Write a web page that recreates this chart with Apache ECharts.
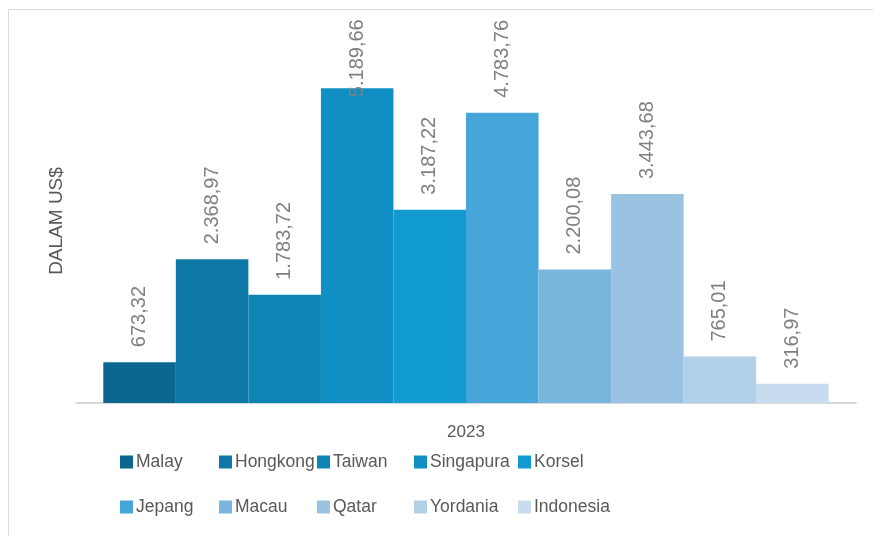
<!DOCTYPE html>
<html>
<head>
<meta charset="utf-8">
<script src="https://cdn.jsdelivr.net/npm/echarts@6/dist/echarts.min.js"></script>
<style>
    html, body { margin: 0; padding: 0; background: #fff; }
    #main { width: 873px; height: 536px; }
</style>
</head>
<body>
<div id="main"></div>
<script>
// ekspor 2023, dalam US$
var years = ['2023'];
var countries = ['Malay', 'Hongkong', 'Taiwan', 'Singapura', 'Korsel', 'Jepang', 'Macau', 'Qatar', 'Yordania', 'Indonesia'];
var values = [673.32, 2368.97, 1783.72, 5189.66, 3187.22, 4783.76, 2200.08, 3443.68, 765.01, 316.97];
var colors = ['#0a6890', '#0d77a5', '#0e84b5', '#108fc4', '#119bd0', '#46a6d9', '#7ab5de', '#9ac3e3', '#b3d0e9', '#c7dcef'];

function fmt(v) {
    var parts = v.toFixed(2).split('.');
    return parts[0].replace(/\B(?=(\d{3})+(?!\d))/g, '.') + ',' + parts[1];
}

var chart = echarts.init(document.getElementById('main'));

var seriesObj = [];
for (var i = 0; i < countries.length; i++) {
    seriesObj.push({
        name: countries[i],
        type: 'bar',
        barGap: '0%',
        barCategoryGap: '7%',
        itemStyle: {
            color: colors[i]
        },
        label: {
            show: true,
            position: 'top',
            rotate: 90,
            align: 'left',
            verticalAlign: 'middle',
            // label Singapura masuk ke batang, seperti di Excel
            distance: countries[i] === 'Singapura' ? -9 : 15,
            color: '#808080',
            fontFamily: 'Liberation Sans',
            fontSize: 20,
            formatter: function (p) {
                return fmt(p.value);
            }
        },
        data: [values[i]]
    });
}

// legenda 2 baris x 5 kolom, posisi kolom seperti Excel
var legendCols = [120, 219, 317, 414, 518];
var legendRows = [450, 495];
var legends = [];
for (var j = 0; j < countries.length; j++) {
    legends.push({
        left: legendCols[j % 5],
        top: legendRows[Math.floor(j / 5)],
        padding: 0,
        itemWidth: 13,
        itemHeight: 13,
        itemGap: 0,
        icon: 'rect',
        textStyle: {
            color: '#595959',
            fontFamily: 'Liberation Sans',
            fontSize: 17.5,
            lineHeight: 24,
            padding: [0, 0, 0, -2]
        },
        data: [countries[j]]
    });
}

option = {
    backgroundColor: '#fff',
    animation: false,
    graphic: [{
        type: 'rect',
        shape: { x: 8.5, y: 9.5, width: 900, height: 600 },
        style: { fill: 'none', stroke: '#d9d9d9', lineWidth: 1 },
        silent: true
    }],
    grid: {
        left: 76,
        right: 17,
        top: 39,
        bottom: 133
    },
    legend: legends,
    xAxis: {
        type: 'category',
        data: years,
        axisLine: {
            lineStyle: { color: '#d9d9d9', width: 2 }
        },
        axisTick: { show: false },
        axisLabel: {
            color: '#595959',
            fontFamily: 'Liberation Sans',
            fontSize: 17,
            margin: 21
        }
    },
    yAxis: {
        type: 'value',
        min: 0,
        max: 6000,
        name: 'DALAM US$',
        nameLocation: 'middle',
        nameGap: 10,
        nameTextStyle: {
            color: '#595959',
            fontFamily: 'Liberation Sans',
            fontSize: 19
        },
        axisLine: { show: false },
        axisTick: { show: false },
        axisLabel: { show: false },
        splitLine: { show: false }
    },
    series: seriesObj
};
chart.setOption(option);
</script>
</body>
</html>
